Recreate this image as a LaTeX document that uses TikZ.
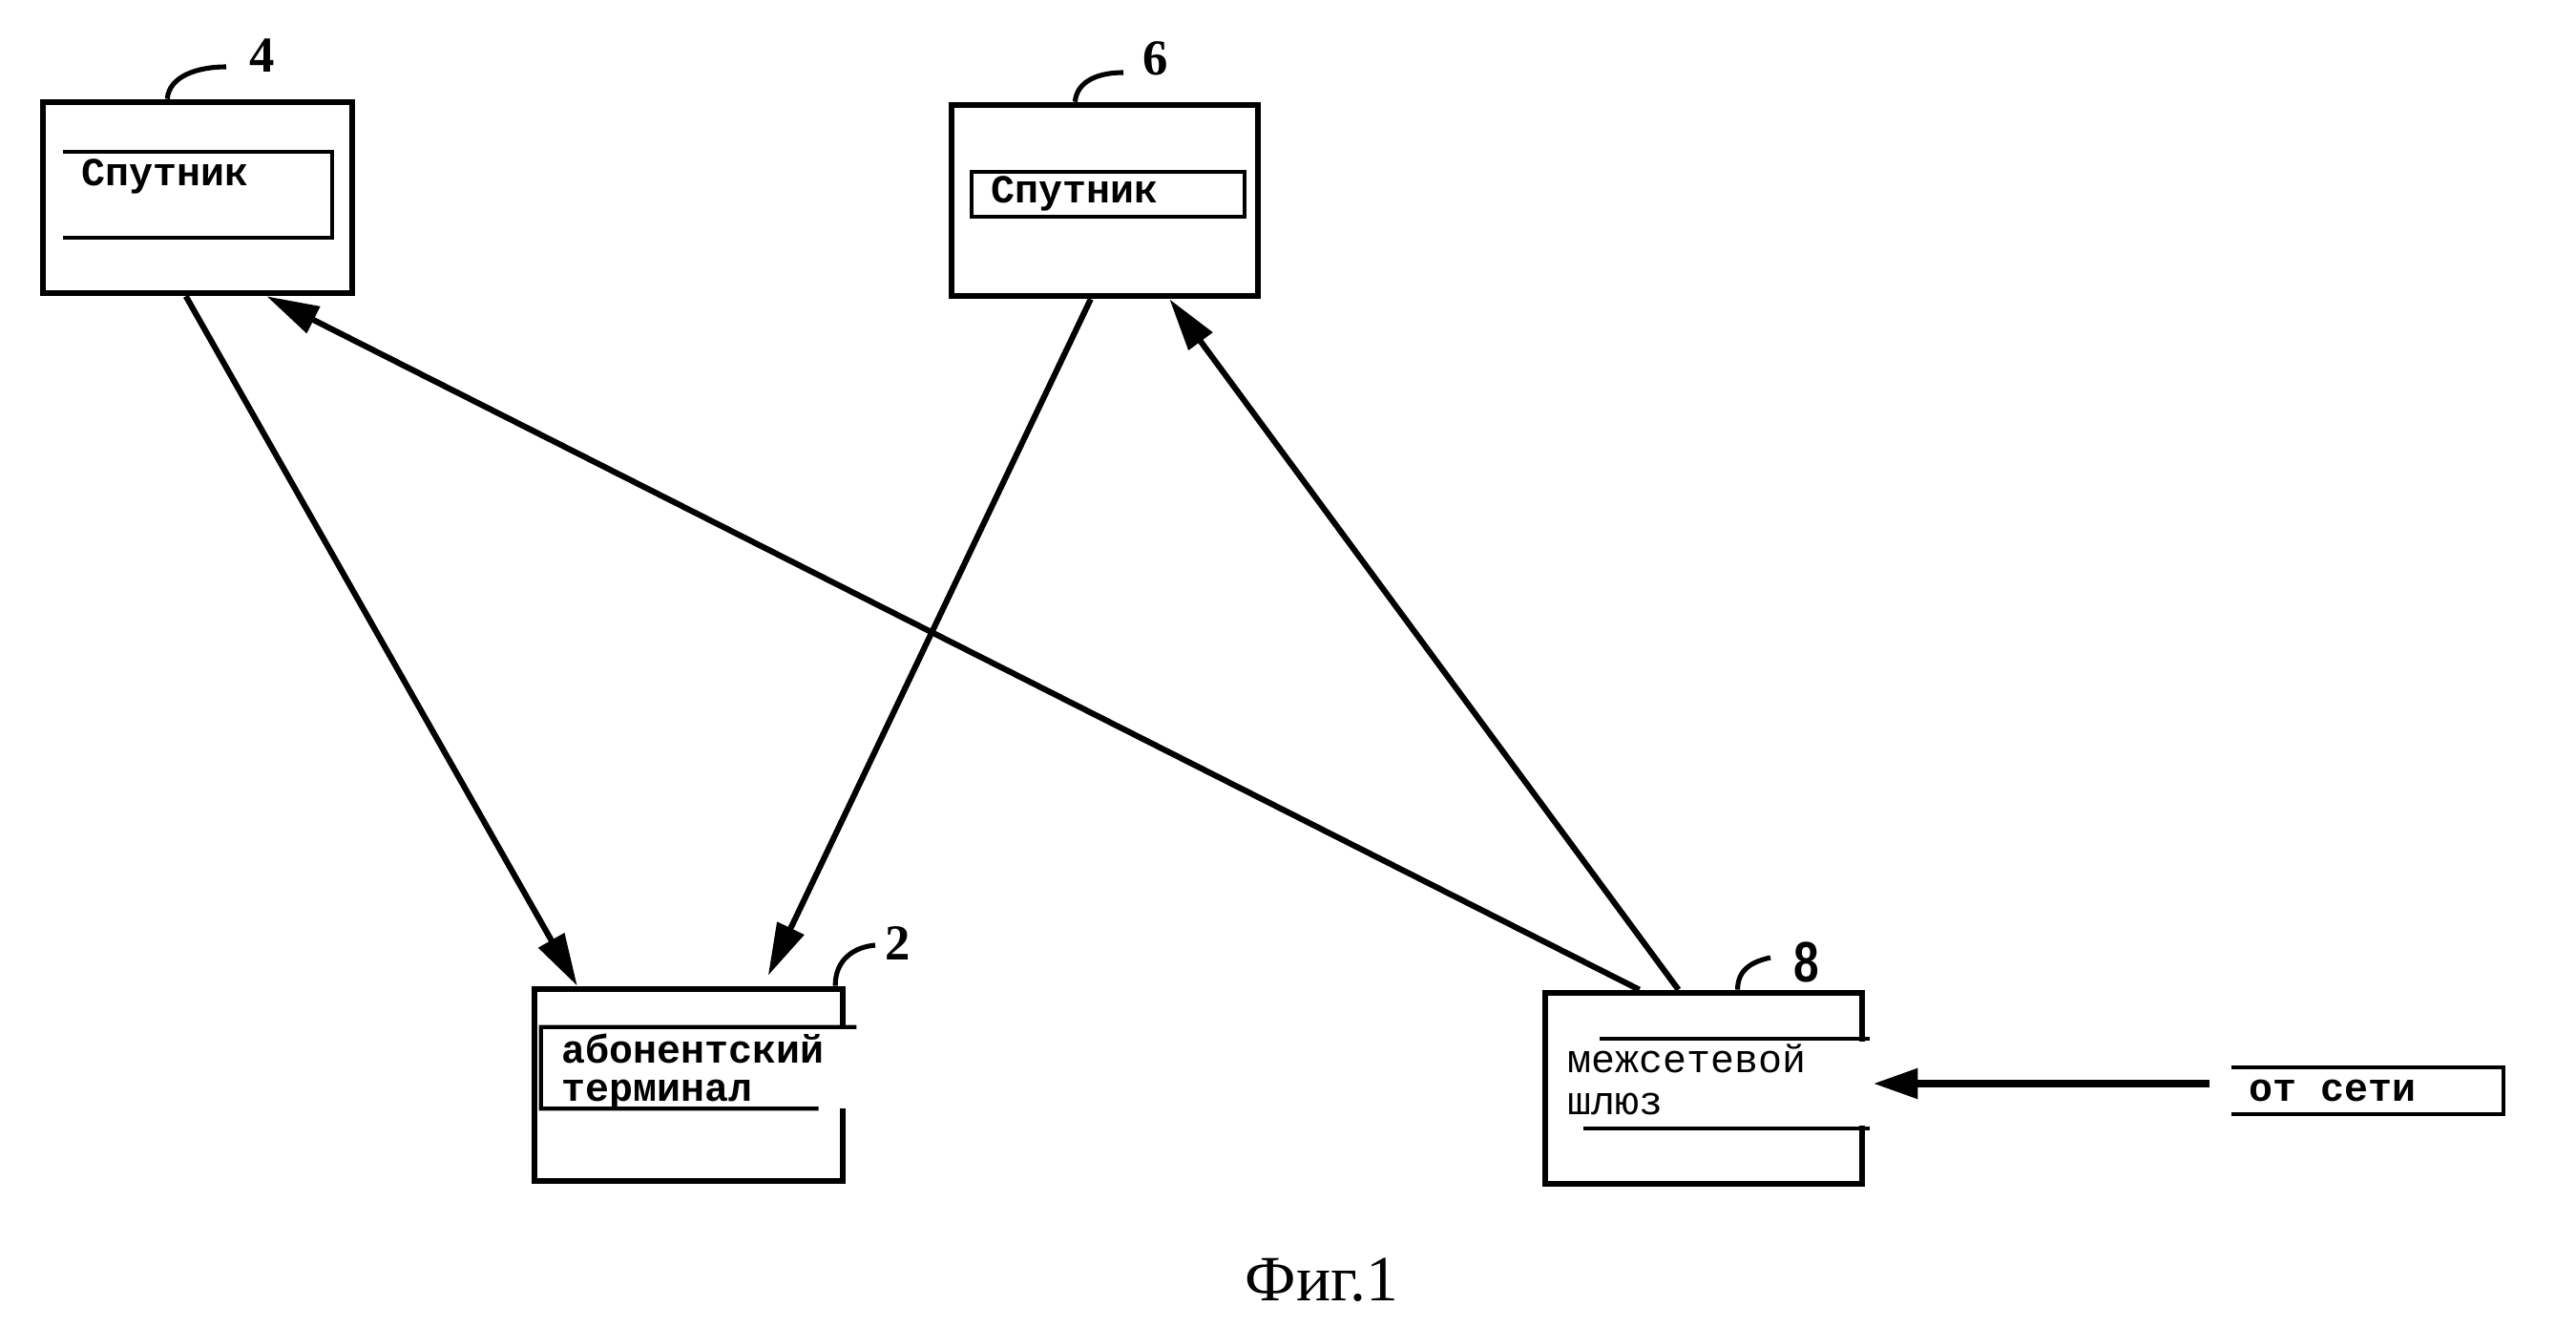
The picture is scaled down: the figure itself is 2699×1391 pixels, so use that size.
\documentclass[tikz,border=0pt]{standalone}
\usepackage{fontspec}
\setmainfont{Liberation Serif}
\setmonofont{Liberation Mono}
\setsansfont{Liberation Sans}
\usetikzlibrary{arrows.meta,calc,fit}
\begin{document}
\begin{tikzpicture}[x=0.02cm,y=-0.02cm,
  box/.style={draw, line width=3.8pt, inner sep=0pt},
  area/.style={inner sep=0pt},
  inner/.style={line width=2.4pt},
  conn/.style={line width=3.5pt, -{Triangle[length=1.1cm,width=0.6cm]}},
  feed/.style={line width=4.8pt, -{Triangle[length=0.94cm,width=0.6cm]}},
  lead/.style={line width=2.9pt},
  txt/.style={anchor=base west, inner sep=0pt, font=\ttfamily\bfseries\fontsize{23.7}{28}\selectfont},
  txtl/.style={anchor=base west, inner sep=0pt, font=\ttfamily\fontsize{23.7}{28}\selectfont},
  num/.style={inner sep=0pt, font=\bfseries\fontsize{30}{32}\selectfont},
  captxt/.style={anchor=base, inner sep=0pt, font=\fontsize{38.5}{42}\selectfont}
]
\fill[white] (0,0) rectangle (2699,1391);
\useasboundingbox (0,0) rectangle (2699,1391);

% boxes
\node[box, fit={(45,107) (369,307)}] (b4) {};
\node[box, fit={(997,110) (1318,310)}] (b6) {};
\node[box, fit={(560,1036) (883,1237)}] (b2) {};
\node[box, fit={(1619,1040) (1951,1240)}] (b8) {};

% inner label areas
\node[area, fit={(66,159) (348,249)}] (l4) {};
\draw[inner] (l4.north west) -- (l4.north east) -- (l4.south east) -- (l4.south west);
\node[area, fit={(1018,180) (1304,227)}] (l6) {};
\draw[inner] (l6.north west) rectangle (l6.south east);

\node[area, fill=white, fit={(567,1076) (897,1161)}] (l2) {};
\draw[inner] (l2.north east) -- (l2.north west) -- (l2.south west) -- ($(l2.south west)!0.88!(l2.south east)$);

\node[area, fill=white, fit={(1640,1091) (1966,1179)}] (l8) {};
\draw[inner] (1676,1088) -- (1959,1088);
\draw[inner] (1659,1182) -- (1959,1182);

\node[area, fit={(2338,1118) (2623,1167)}] (ot) {};
\draw[inner] (ot.north west) -- (ot.north east) -- (ot.south east) -- (ot.south west);

% texts
\node[txt] (t4) at (85,195) {Спутник};
\node[txt] (t6) at (1038,213) {Спутник};
\node[txt] (t2a) at (588,1113) {абонентский};
\node[txt] (t2b) at (588,1153) {терминал};
\node[txtl] (t8a) at (1642,1123) {межсетевой};
\node[txtl] (t8b) at (1642,1167) {шлюз};
\node[txt] (tot) at (2356,1153) {от сети};

% reference numbers
\node[num] (n4) at (275,58) {4};
\node[num] (n6) at (1211,61) {6};
\node[num] (n2) at (941,988) {2};
\node[inner sep=0pt, font=\sffamily\bfseries\fontsize{34}{36}\selectfont, xscale=0.8] (n8) at (1893,1008) {8};

\coordinate (e4) at (237,70);
\coordinate (e6) at (1177,76);
\coordinate (e2) at (917,990);
\coordinate (e8) at (1855,1003);
\draw[lead] ($(b4.north west)!0.404!(b4.north east)$) .. controls +(2,-24) and +(-30,0) .. (e4);
\draw[lead] ($(b6.north west)!0.405!(b6.north east)$) .. controls +(2,-22) and +(-26,0) .. (e6);
\draw[lead] ($(b2.north west)!0.966!(b2.north east)$) .. controls +(0,-28) and +(-22,2) .. (e2);
\draw[lead] ($(b8.north west)!0.605!(b8.north east)$) .. controls +(0,-22) and +(-18,4) .. (e8);

% connectors
\draw[conn] ($(b4.south west)!0.463!(b4.south east)$) -- ($(b2.north west)!0.146!(b2.north east)$);
\draw[conn, shorten >=0.24cm] ($(b6.south west)!0.455!(b6.south east)$) -- ($(b2.north west)!0.737!(b2.north east)$);
\draw[conn] ($(b8.north west)!0.301!(b8.north east)$) -- ($(b4.south west)!0.719!(b4.south east)$);
\draw[conn] ($(b8.north west)!0.422!(b8.north east)$) -- ($(b6.south west)!0.707!(b6.south east)$);
\draw[feed] ([xshift=-0.46cm]l8.east -| ot.west) -- ([xshift=-0.08cm]l8.east);

% caption
\node[captxt] (fig) at (1385,1362) {Фиг.1};
\end{tikzpicture}
\end{document}
